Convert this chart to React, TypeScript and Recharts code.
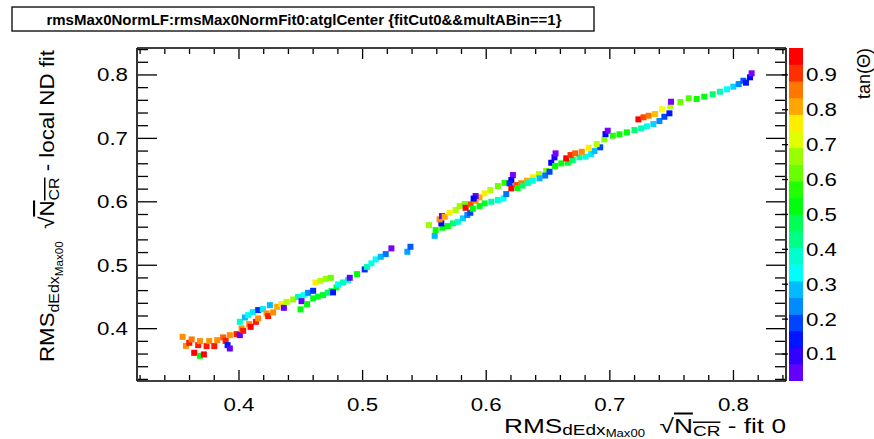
import React from 'react';
import { ScatterChart, Scatter, XAxis, YAxis } from 'recharts';

// ---- data: tracks (x = fit 0, y = local ND fit, tan = tan(theta)) ----
const lowX = [0.3544,0.3571,0.3598,0.3617,0.3638,0.3670,0.3684,0.3684,0.3716,0.3738,0.3759,0.3800,0.3824,0.3872,0.3892,0.3908,0.3926,0.3926,0.3981,0.4007,0.4021,0.4034,0.4007,0.4048,0.4082,0.4094,0.4074,0.4112,0.4137,0.4155,0.4155,0.4193,0.4223,0.4236,0.4276,0.4309,0.4344,0.4363,0.4385,0.4250,
  0.4438,0.4478,0.4524,0.4559,0.4600,0.4506,0.4498,0.4551,0.4600,0.4637,0.4680,0.4718,0.4748,0.4789,0.4761,0.4802,0.4842,0.4882,0.4896,0.4955,0.4619,0.4659,0.4702,0.4743,0.5017,0.5036,0.5071,0.5106,0.5147,0.5187,0.5233,0.5362,0.5387];
const lowY = [0.3871,0.3729,0.3777,0.3830,0.3619,0.3740,0.3804,0.3572,0.3594,0.3725,0.3804,0.3725,0.3819,0.3862,0.3808,0.3740,0.3688,0.3898,0.3914,0.3898,0.4004,0.3966,0.4108,0.4177,0.4072,0.4029,0.4214,0.4261,0.4108,0.4162,0.4293,0.4308,0.4240,0.4198,0.4256,0.4345,0.4387,0.4329,0.4423,0.4371,
  0.4461,0.4502,0.4529,0.4565,0.4597,0.4434,0.4304,0.4387,0.4477,0.4505,0.4529,0.4568,0.4592,0.4651,0.4572,0.4698,0.4729,0.4766,0.4802,0.4860,0.4729,0.4755,0.4786,0.4802,0.4934,0.4975,0.5029,0.5092,0.5133,0.5176,0.5266,0.5212,0.5291];
const lowTan = [0.86,0.85,0.95,0.87,0.96,0.95,0.86,0.55,0.97,0.95,0.85,0.95,0.86,0.90,0.95,0.17,0.07,0.85,0.95,0.07,0.85,0.95,0.40,0.30,0.85,0.96,0.35,0.34,0.95,0.86,0.18,0.33,0.85,0.95,0.85,0.84,0.78,0.07,0.70,0.30,
  0.68,0.42,0.36,0.26,0.18,0.07,0.55,0.55,0.53,0.52,0.52,0.48,0.50,0.52,0.17,0.36,0.42,0.40,0.07,0.55,0.77,0.70,0.68,0.64,0.18,0.42,0.38,0.35,0.30,0.25,0.06,0.28,0.22];

const midX = [0.5537,0.5583,0.5591,0.5645,0.5690,0.5731,0.5771,0.5812,0.5847,0.5871,0.5637,0.5623,0.5642,0.5664,0.5704,0.5753,0.5785,0.5825,0.5833,0.5874,0.5914,0.5946,0.5914,0.5898,0.5987,0.6033,0.6094,0.6148,0.5892,0.5946,0.5987,0.6041,0.6094,0.6140,0.6162];
const midY = [0.5633,0.5464,0.5554,0.5591,0.5617,0.5660,0.5685,0.5739,0.5791,0.5827,0.5660,0.5723,0.5775,0.5764,0.5827,0.5870,0.5933,0.5964,0.5906,0.5960,0.6017,0.6070,0.6091,0.6051,0.6133,0.6185,0.6248,0.6300,0.5890,0.5933,0.5975,0.6001,0.6028,0.6054,0.6122];
const midTan = [0.68,0.30,0.56,0.55,0.54,0.47,0.40,0.31,0.26,0.20,0.15,0.85,0.07,0.83,0.77,0.70,0.68,0.64,0.96,0.91,0.86,0.84,0.07,0.15,0.77,0.70,0.64,0.58,0.55,0.55,0.53,0.43,0.40,0.35,0.25];

const upperX = [0.6216,0.6203,0.6189,0.6203,0.6243,0.6283,0.6329,0.6377,0.6426,0.6485,0.6254,0.6294,0.6337,0.6377,0.6431,0.6477,0.6512,0.6526,0.6552,0.6561,0.6557,0.6607,0.6660,0.6700,0.6754,0.6803,0.6849,0.6876,0.6922,0.6894,0.6956,0.6965,0.6983,0.6647,0.6682,0.6720,0.6773,0.6830];
const upperY = [0.6422,0.6343,0.6291,0.6212,0.6264,0.6291,0.6332,0.6386,0.6438,0.6485,0.6217,0.6256,0.6296,0.6332,0.6370,0.6414,0.6474,0.6616,0.6701,0.6764,0.6564,0.6606,0.6616,0.6658,0.6701,0.6711,0.6753,0.6800,0.6859,0.6911,0.6985,0.7068,0.7121,0.6685,0.6737,0.6764,0.6789,0.6852];
const upperTan = [0.06,0.14,0.18,0.96,0.91,0.87,0.83,0.77,0.70,0.66,0.55,0.48,0.42,0.38,0.30,0.25,0.20,0.15,0.13,0.06,0.57,0.55,0.53,0.47,0.42,0.37,0.34,0.30,0.20,0.70,0.66,0.14,0.06,0.96,0.93,0.90,0.86,0.78];

const topX = [0.7024,0.7078,0.7138,0.7199,0.7253,0.7300,0.7352,0.7401,0.7441,0.7482,0.7231,0.7272,0.7314,0.7366,0.7423,0.7490,0.7495,0.7571,0.7638,0.7702,0.7764,0.7832,0.7891,0.7948,0.7999,0.8042,0.8080,0.8101,0.8134,0.8147];
const topY = [0.7042,0.7064,0.7095,0.7132,0.7158,0.7190,0.7226,0.7274,0.7341,0.7395,0.7300,0.7332,0.7357,0.7384,0.7458,0.7510,0.7578,0.7573,0.7632,0.7621,0.7657,0.7695,0.7736,0.7774,0.7815,0.7857,0.7909,0.7878,0.7963,0.8026];
const topTan = [0.58,0.56,0.54,0.48,0.42,0.37,0.31,0.26,0.20,0.16,0.96,0.91,0.87,0.82,0.76,0.70,0.06,0.65,0.62,0.56,0.55,0.48,0.42,0.36,0.31,0.27,0.22,0.17,0.14,0.06];

// ---- axes ----
const axisDomain: [number, number] = [0.3175, 0.8425];
const axisTicks = [0.32,0.34,0.36,0.38,0.40,0.42,0.44,0.46,0.48,0.50,0.52,0.54,0.56,0.58,0.60,0.62,0.64,0.66,0.68,0.70,0.72,0.74,0.76,0.78,0.80,0.82,0.84];
const zDomain: [number, number] = [0.0226, 0.977];
const zTicks = [0.1,0.2,0.3,0.4,0.5,0.6,0.7,0.8,0.9];
const zTickLabels = ['0.1','0.2','0.3','0.4','0.5','0.6','0.7','0.8','0.9'];
const nContours = 20;

const titleText = 'rmsMax0NormLF:rmsMax0NormFit0:atglCenter {fitCut0&&multABin==1}';

const FONT = '"Liberation Sans", Arial, Helvetica, sans-serif';

// ROOT "pretty" palette: 50 hues from violet to red
const paletteHue = (i: number) => 280 - (i + 1) * 5.6;
const pointColor = (z: number) => {
  const t = (z - zDomain[0]) / (zDomain[1] - zDomain[0]);
  const i = Math.max(0, Math.min(49, Math.floor(t * 50)));
  return `hsl(${paletteHue(i)},100%,50%)`;
};
// contour bands of the palette (centre value + colour)
const bandStep = (zDomain[1] - zDomain[0]) / nContours;
const bands = Array.from({ length: nContours }, (_, k) => {
  const idx = Math.floor((k + 0.99) * 50 / nContours);
  return { x: 0.5, z: zDomain[0] + (k + 0.5) * bandStep, color: `hsl(${paletteHue(idx)},100%,50%)` };
});

const toPoints = (xs: number[], ys: number[], zs: number[]) => xs.map((x, i) => ({ x, y: ys[i], z: zs[i] }));

const isMajor = (v: number) => Math.abs(v * 10 - Math.round(v * 10)) < 1e-6;
const fmt = (v: number) => v.toFixed(1);

const TL = 1.3;
const LBL = { fontSize: 18, fontFamily: FONT, fill: '#000', textLength: 31, lengthAdjust: 'spacingAndGlyphs' as const };
const BottomTick = (p: any) => {
  const v = p.payload.value; const m = isMajor(v);
  return (
    <g>
      <line x1={p.x} x2={p.x} y1={p.y - 1} y2={p.y - 1 - (m ? 10 : 5)} stroke="#000" strokeWidth={TL} />
      {m && <text x={p.x - 15.5} y={p.y + 29.5} {...LBL}>{fmt(v)}</text>}
    </g>
  );
};
const TopTick = (p: any) => {
  const m = isMajor(p.payload.value);
  return <line x1={p.x} x2={p.x} y1={p.y + 1} y2={p.y + 1 + (m ? 10 : 5)} stroke="#000" strokeWidth={TL} />;
};
const LeftTick = (p: any) => {
  const v = p.payload.value; const m = isMajor(v);
  return (
    <g>
      <line x1={p.x + 1} x2={p.x + 1 + (m ? 19 : 10)} y1={p.y} y2={p.y} stroke="#000" strokeWidth={TL} />
      {m && <text x={p.x - 40} y={p.y + 6.5} {...LBL}>{fmt(v)}</text>}
    </g>
  );
};
const RightTick = (p: any) => {
  const m = isMajor(p.payload.value);
  return <line x1={p.x - 1} x2={p.x - 1 - (m ? 19 : 10)} y1={p.y} y2={p.y} stroke="#000" strokeWidth={TL} />;
};
const ZTick = (p: any) => {
  const i = zTicks.findIndex((t) => Math.abs(t - p.payload.value) < 1e-6);
  return (
    <g>
      <line x1={p.x - 15} x2={p.x - 21} y1={p.y} y2={p.y} stroke="#000" strokeWidth={TL} />
      <text x={p.x + 3} y={p.y + 6.5} {...LBL}>{zTickLabels[i]}</text>
    </g>
  );
};

const Square = (p: any) => {
  if (p.cx == null || p.cy == null) return <g />;
  return <rect x={p.cx - 3} y={p.cy - 3} width={6} height={6} fill={pointColor(p.payload.z)} />;
};
const BandRect = (p: any) => {
  if (p.cx == null || p.cy == null) return <g />;
  return <rect x={p.cx - 7} y={p.cy - 8.6} width={14} height={17.2} fill={p.payload.color} />;
};

const frameLine = { stroke: '#000', strokeWidth: 1.6 };
const nb = '\u00a0';

export default function App() {
  const series = [
    toPoints(lowX, lowY, lowTan),
    toPoints(midX, midY, midTan),
    toPoints(upperX, upperY, upperTan),
    toPoints(topX, topY, topTan),
  ];
  return (
    <div style={{ position: 'absolute', left: 0, top: 0, width: 874, height: 439, background: '#fff', overflow: 'hidden' }}>
      <div style={{ position: 'absolute', left: 0, top: 0 }}>
        <ScatterChart width={874} height={439} margin={{ top: 48, right: 70, bottom: 58, left: 789 }}>
          <XAxis type="number" dataKey="x" domain={[0, 1]} hide />
          <YAxis type="number" dataKey="z" orientation="right" domain={zDomain} ticks={zTicks} interval={0} width={1}
            tickSize={0} tickMargin={0} tickLine={false} axisLine={false} tick={ZTick} allowDataOverflow />
          <Scatter data={bands} isAnimationActive={false} shape={BandRect} />
        </ScatterChart>
      </div>
      <div style={{ position: 'absolute', left: 0, top: 0 }}>
        <ScatterChart width={874} height={439} margin={{ top: 47, right: 87, bottom: 57, left: 136 }}>
          <XAxis type="number" dataKey="x" domain={axisDomain} ticks={axisTicks} interval={0} height={1}
            tickSize={0} tickMargin={0} tickLine={false} axisLine={frameLine} tick={BottomTick} allowDataOverflow />
          <XAxis xAxisId="top" orientation="top" type="number" dataKey="x" domain={axisDomain} ticks={axisTicks} interval={0} height={1}
            tickSize={0} tickMargin={0} tickLine={false} axisLine={frameLine} tick={TopTick} allowDataOverflow />
          <YAxis type="number" dataKey="y" domain={axisDomain} ticks={axisTicks} interval={0} width={1}
            tickSize={0} tickMargin={0} tickLine={false} axisLine={frameLine} tick={LeftTick} allowDataOverflow />
          <YAxis yAxisId="right" orientation="right" type="number" dataKey="y" domain={axisDomain} ticks={axisTicks} interval={0} width={1}
            tickSize={0} tickMargin={0} tickLine={false} axisLine={frameLine} tick={RightTick} allowDataOverflow />
          {series.map((d, i) => (
            <Scatter key={i} data={d} isAnimationActive={false} shape={Square} />
          ))}
        </ScatterChart>
      </div>
      <svg width={874} height={439} style={{ position: 'absolute', left: 0, top: 0, pointerEvents: 'none' }} fontFamily={FONT}>
        <rect x={12} y={7} width={582} height={24} fill="#fff" stroke="#000" strokeWidth={1.3} />
        <text x={304} y={24.5} textAnchor="middle" fontSize={15} fontWeight="bold" fill="#000">{titleText}</text>
        <text x={504} y={432.5} textAnchor="start" fontSize={20} fill="#000" textLength={282} lengthAdjust="spacingAndGlyphs">
          RMS<tspan fontSize={14.5} dy={2.5}>dEdx</tspan><tspan fontSize={10} dy={1.5}>Max00</tspan>
          <tspan dy={-4}>{nb}{nb}√</tspan><tspan textDecoration="overline">N</tspan><tspan fontSize={14.5} dy={3} textDecoration="overline">CR</tspan>
          <tspan dy={-3}>{nb}- fit 0</tspan>
        </text>
        <text transform="translate(54,362) rotate(-90)" textAnchor="start" fontSize={21} fill="#000" textLength={312} lengthAdjust="spacingAndGlyphs">
          RMS<tspan fontSize={15} dy={5}>dEdx</tspan><tspan fontSize={11} dy={4}>Max00</tspan>
          <tspan dy={-9}>{nb}{nb}√</tspan><tspan textDecoration="overline">N</tspan><tspan fontSize={15} dy={5} textDecoration="overline">CR</tspan>
          <tspan dy={-5}>{nb}- local ND fit</tspan>
        </text>
        <text transform="translate(870,48) rotate(-90)" textAnchor="end" fontSize={18} fill="#000">tan(Θ)</text>
      </svg>
    </div>
  );
}
